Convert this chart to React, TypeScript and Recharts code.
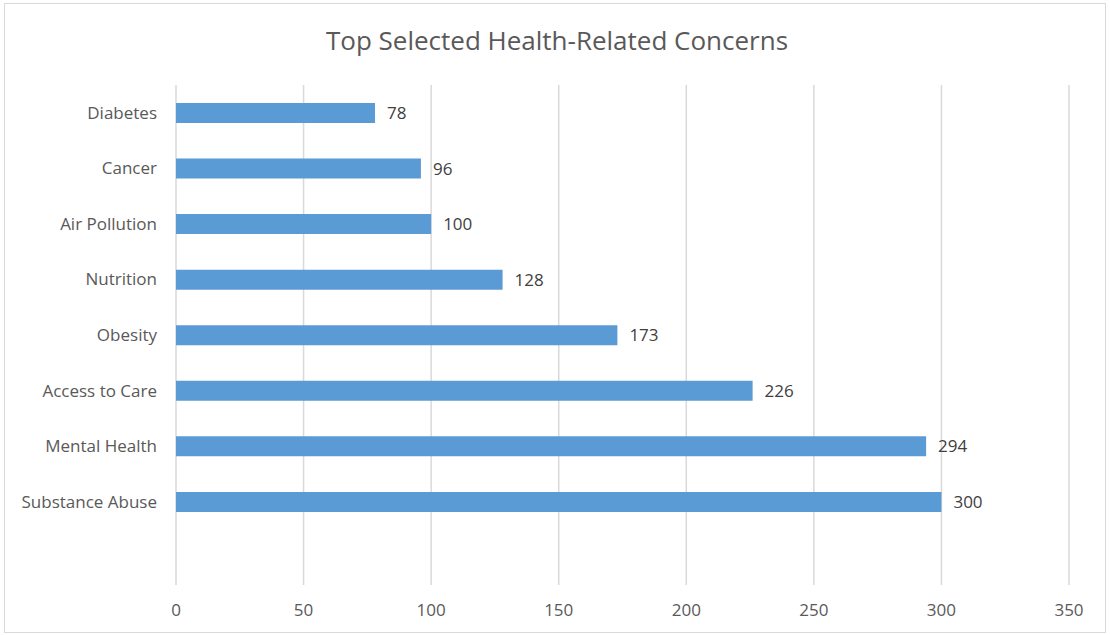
import { BarChart, Bar, XAxis, YAxis, CartesianGrid, LabelList } from "recharts";

const concerns = [
  "Diabetes",
  "Cancer",
  "Air Pollution",
  "Nutrition",
  "Obesity",
  "Access to Care",
  "Mental Health",
  "Substance Abuse",
];
const counts = [78, 96, 100, 128, 173, 226, 294, 300];
const xTicks = [0, 50, 100, 150, 200, 250, 300, 350];

// trailing blank row leaves the empty band under the last bar
const data = [
  ...concerns.map((name, i) => ({ name, value: counts[i] })),
  { name: "", value: null as number | null },
];

const font = "'Open Sans', 'Noto Sans', sans-serif";

const App = () => {
  return (
    <div style={{ position: "absolute", left: 0, top: 0, width: 1110, height: 635, background: "#fff" }}>
      <div
        style={{
          position: "absolute",
          left: 4,
          top: 3,
          width: 1100,
          height: 628,
          border: "1px solid #d9d9d9",
        }}
      />
      <div
        style={{
          position: "absolute",
          left: 0,
          top: 22,
          width: 1114,
          textAlign: "center",
          fontFamily: font,
          fontSize: 26,
          color: "#595959",
        }}
      >
        Top Selected Health-Related Concerns
      </div>
      <BarChart
        width={1110}
        height={635}
        data={data}
        layout="vertical"
        margin={{ top: 85, right: 41, bottom: 0, left: 0 }}
        style={{ position: "absolute", left: 0, top: 0 }}
      >
        <CartesianGrid horizontal={false} stroke="#d9d9d9" strokeWidth={1.5} />
        <XAxis
          type="number"
          domain={[0, 350]}
          ticks={xTicks}
          axisLine={false}
          tickLine={false}
          tickSize={0}
          tickMargin={19}
          height={50}
          tick={{ fill: "#595959", fontSize: 17, fontFamily: font }}
        />
        <YAxis
          type="category"
          dataKey="name"
          width={176}
          axisLine={false}
          tickLine={false}
          tickSize={0}
          tickMargin={19}
          interval={0}
          tick={{ fill: "#595959", fontSize: 17, fontFamily: font }}
        />
        <Bar dataKey="value" fill="#5b9bd5" barSize={20} isAnimationActive={false}>
          <LabelList
            dataKey="value"
            position="right"
            offset={12}
            fill="#404040"
            fontSize={17}
            fontFamily={font}
          />
        </Bar>
      </BarChart>
    </div>
  );
};

export default App;
